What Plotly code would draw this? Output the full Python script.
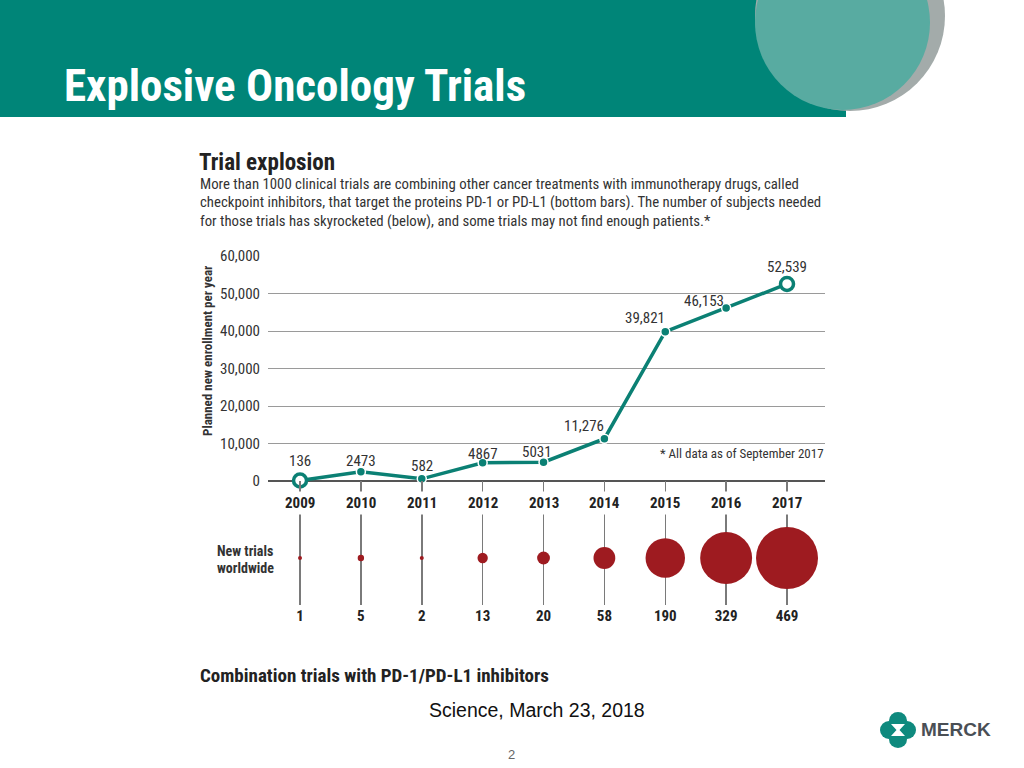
import plotly.graph_objects as go

# ---------------- data ----------------
years = [2009, 2010, 2011, 2012, 2013, 2014, 2015, 2016, 2017]
enrollment = [136, 2473, 582, 4867, 5031, 11276, 39821, 46153, 52539]
enroll_labels = ["136", "2473", "582", "4867", "5031", "11,276", "39,821", "46,153", "52,539"]
new_trials = [1, 5, 2, 13, 20, 58, 190, 329, 469]
y_tick_vals = [0, 10000, 20000, 30000, 40000, 50000, 60000]
y_tick_text = ["0", "10,000", "20,000", "30,000", "40,000", "50,000", "60,000"]

# label offsets (px) for the value labels: (xshift, yshift)
label_offsets = [(0, 19), (0, 11), (0, 13), (0, 9), (-7, 10), (-20, 13), (-20, 14), (-22, 7), (0, 17)]

# ---------------- style ----------------
W, H = 1024, 768
TEAL = "#0b8074"
BAND = "rgb(0,133,120)"
RED = "#9e1b20"
NARROW = "Liberation Sans Narrow, Arial Narrow, Roboto Condensed, sans-serif"
SANS = "Liberation Sans, Arial, sans-serif"


def px(x):
    return x / W


def py(y):
    return 1 - y / H


fig = go.Figure()

# enrollment line
fig.add_trace(go.Scatter(
    x=years, y=enrollment, mode="lines+markers",
    line=dict(color=TEAL, width=3.5),
    marker=dict(
        size=[13] + [9] * 7 + [13],
        color=["white"] + [TEAL] * 7 + ["white"],
        line=dict(color=[TEAL] + ["white"] * 7 + [TEAL],
                  width=[3.5] + [1.5] * 7 + [3.5]),
        opacity=1,
    ),
    cliponaxis=False, hoverinfo="skip", showlegend=False,
    xaxis="x", yaxis="y",
))

# new trials bubbles
fig.add_trace(go.Scatter(
    x=years, y=[0] * len(years), mode="markers",
    marker=dict(size=new_trials, sizemode="area", sizeref=2 * 469 / 62 ** 2,
                sizemin=2, color=RED, opacity=1, line=dict(width=0)),
    cliponaxis=False, hoverinfo="skip", showlegend=False,
    xaxis="x2", yaxis="y2",
))

xr = [2008.474, 2017.624]
xdom = [px(268), px(825)]

fig.update_layout(
    width=W, height=H, margin=dict(l=0, r=0, t=0, b=0, pad=0, autoexpand=False),
    paper_bgcolor="white", plot_bgcolor="rgba(0,0,0,0)",
    showlegend=False,
    xaxis=dict(domain=xdom, range=xr, showgrid=False, zeroline=False,
               showticklabels=False, showline=False, anchor="y", automargin=False),
    yaxis=dict(domain=[py(481), py(256)], range=[0, 60000],
               tickvals=y_tick_vals, ticktext=y_tick_text,
               showgrid=True, gridcolor="#9a9a9a", gridwidth=1,
               zeroline=True, zerolinecolor="#555555", zerolinewidth=2.5,
               ticks="outside", ticklen=4, tickcolor="rgba(0,0,0,0)",
               tickfont=dict(family=NARROW, size=15, color="#333333"),
               showline=False, anchor="x", automargin=False),
    xaxis2=dict(domain=xdom, range=xr, anchor="y2",
                tickvals=years, ticktext=[str(v) for v in new_trials],
                showgrid=True, gridcolor="#7a7a7a", gridwidth=1.5,
                zeroline=False, showline=False,
                ticks="", tickfont=dict(family=NARROW, size=15, color="#222222", weight="bold"),
                automargin=False),
    yaxis2=dict(domain=[py(605), py(481)], range=[-47, 77], visible=False,
                anchor="x2", automargin=False),
)

shapes = [
    # header band
    dict(type="rect", xref="paper", yref="paper", x0=0, x1=px(846), y0=py(117), y1=1,
         fillcolor=BAND, line=dict(width=0), layer="below"),
    # grey circle
    dict(type="circle", xref="paper", yref="paper",
         x0=px(755), x1=px(945), y0=py(111), y1=py(-79),
         fillcolor="#a3abaa", line=dict(width=0), layer="below"),
    # light teal circle
    dict(type="circle", xref="paper", yref="paper",
         x0=px(755), x1=px(930), y0=py(110), y1=py(-65),
         fillcolor="#58aba1", line=dict(width=0), layer="below"),
    # Merck logo lobes
    dict(type="circle", xref="paper", yref="paper", x0=px(880), x1=px(898), y0=py(739), y1=py(721),
         fillcolor="#0f8a7e", line=dict(width=0)),
    dict(type="circle", xref="paper", yref="paper", x0=px(898), x1=px(916), y0=py(739), y1=py(721),
         fillcolor="#0f8a7e", line=dict(width=0)),
    dict(type="circle", xref="paper", yref="paper", x0=px(889), x1=px(907), y0=py(729), y1=py(712),
         fillcolor="#0f8a7e", line=dict(width=0)),
    dict(type="circle", xref="paper", yref="paper", x0=px(889), x1=px(907), y0=py(748), y1=py(731),
         fillcolor="#0f8a7e", line=dict(width=0)),
]
# white hourglass in logo
hx, hy = 898, 730
path = (f"M {px(hx-7)},{py(hy-6)} L {px(hx+7)},{py(hy-6)} L {px(hx+1.5)},{py(hy)} "
        f"L {px(hx+7)},{py(hy+6)} L {px(hx-7)},{py(hy+6)} L {px(hx-1.5)},{py(hy)} Z")
shapes.append(dict(type="path", xref="paper", yref="paper", path=path,
                   fillcolor="white", line=dict(width=0)))
fig.update_layout(shapes=shapes)

ann = []


def text(x, y, s, size, color="#333333", family=NARROW, bold=False, xanchor="left",
         yanchor="middle", angle=0):
    ann.append(dict(x=px(x), y=py(y), xref="paper", yref="paper", text=s, showarrow=False,
                    xanchor=xanchor, yanchor=yanchor, textangle=angle,
                    font=dict(family=family, size=size, color=color,
                              weight="bold" if bold else "normal")))


text(62, 86, "Explosive Oncology Trials", 45, color="white", bold=True)
text(197, 162, "Trial explosion", 23, color="#222222", bold=True)
text(198, 184, "More than 1000 clinical trials are combining other cancer treatments with immunotherapy drugs, called", 14.8)
text(198, 202, "checkpoint inhibitors, that target the proteins PD-1 or PD-L1 (bottom bars). The number of subjects needed", 14.8)
text(198, 221, "for those trials has skyrocketed (below), and some trials may not find enough patients.*", 14.8)
text(207, 351, "Planned new enrollment per year", 13, color="#333333", bold=True,
     xanchor="center", angle=-90)
text(826, 453, "* All data as of September 2017", 13, xanchor="right")
text(215, 551, "New trials", 14, color="#333333", bold=True)
text(215, 568, "worldwide", 14, color="#333333", bold=True)
text(198, 675, "Combination trials with PD-1/PD-L1 inhibitors", 19, color="#222222", bold=True)
text(537, 710, "Science, March 23, 2018", 19.5, color="#111111", family=SANS, xanchor="center")
text(511, 754, "2", 13, color="#666666", family=SANS, xanchor="center")
text(919, 729, "MERCK", 19, color="#4a4f55", family=SANS, bold=True)

# year labels (with white background over the guide lines)
for yr in years:
    ann.append(dict(x=yr, xref="x", y=py(503), yref="paper", text=str(yr), showarrow=False,
                    bgcolor="white", borderpad=2, xanchor="center", yanchor="middle",
                    font=dict(family=NARROW, size=15, color="#222222", weight="bold")))

# value labels
for yr, v, lab, (dx, dy) in zip(years, enrollment, enroll_labels, label_offsets):
    ann.append(dict(x=yr, xref="x", y=v, yref="y", text=lab, showarrow=False,
                    xshift=dx, yshift=dy, xanchor="center", yanchor="middle",
                    font=dict(family=NARROW, size=15, color="#333333")))

fig.update_layout(annotations=ann)

fig.write_html(
    "out.html",
    config={"displayModeBar": False, "staticPlot": True},
    post_script=(
        "document.documentElement.style.margin='0';"
        "document.body.style.margin='0';document.body.style.overflow='hidden';"
    ),
)
